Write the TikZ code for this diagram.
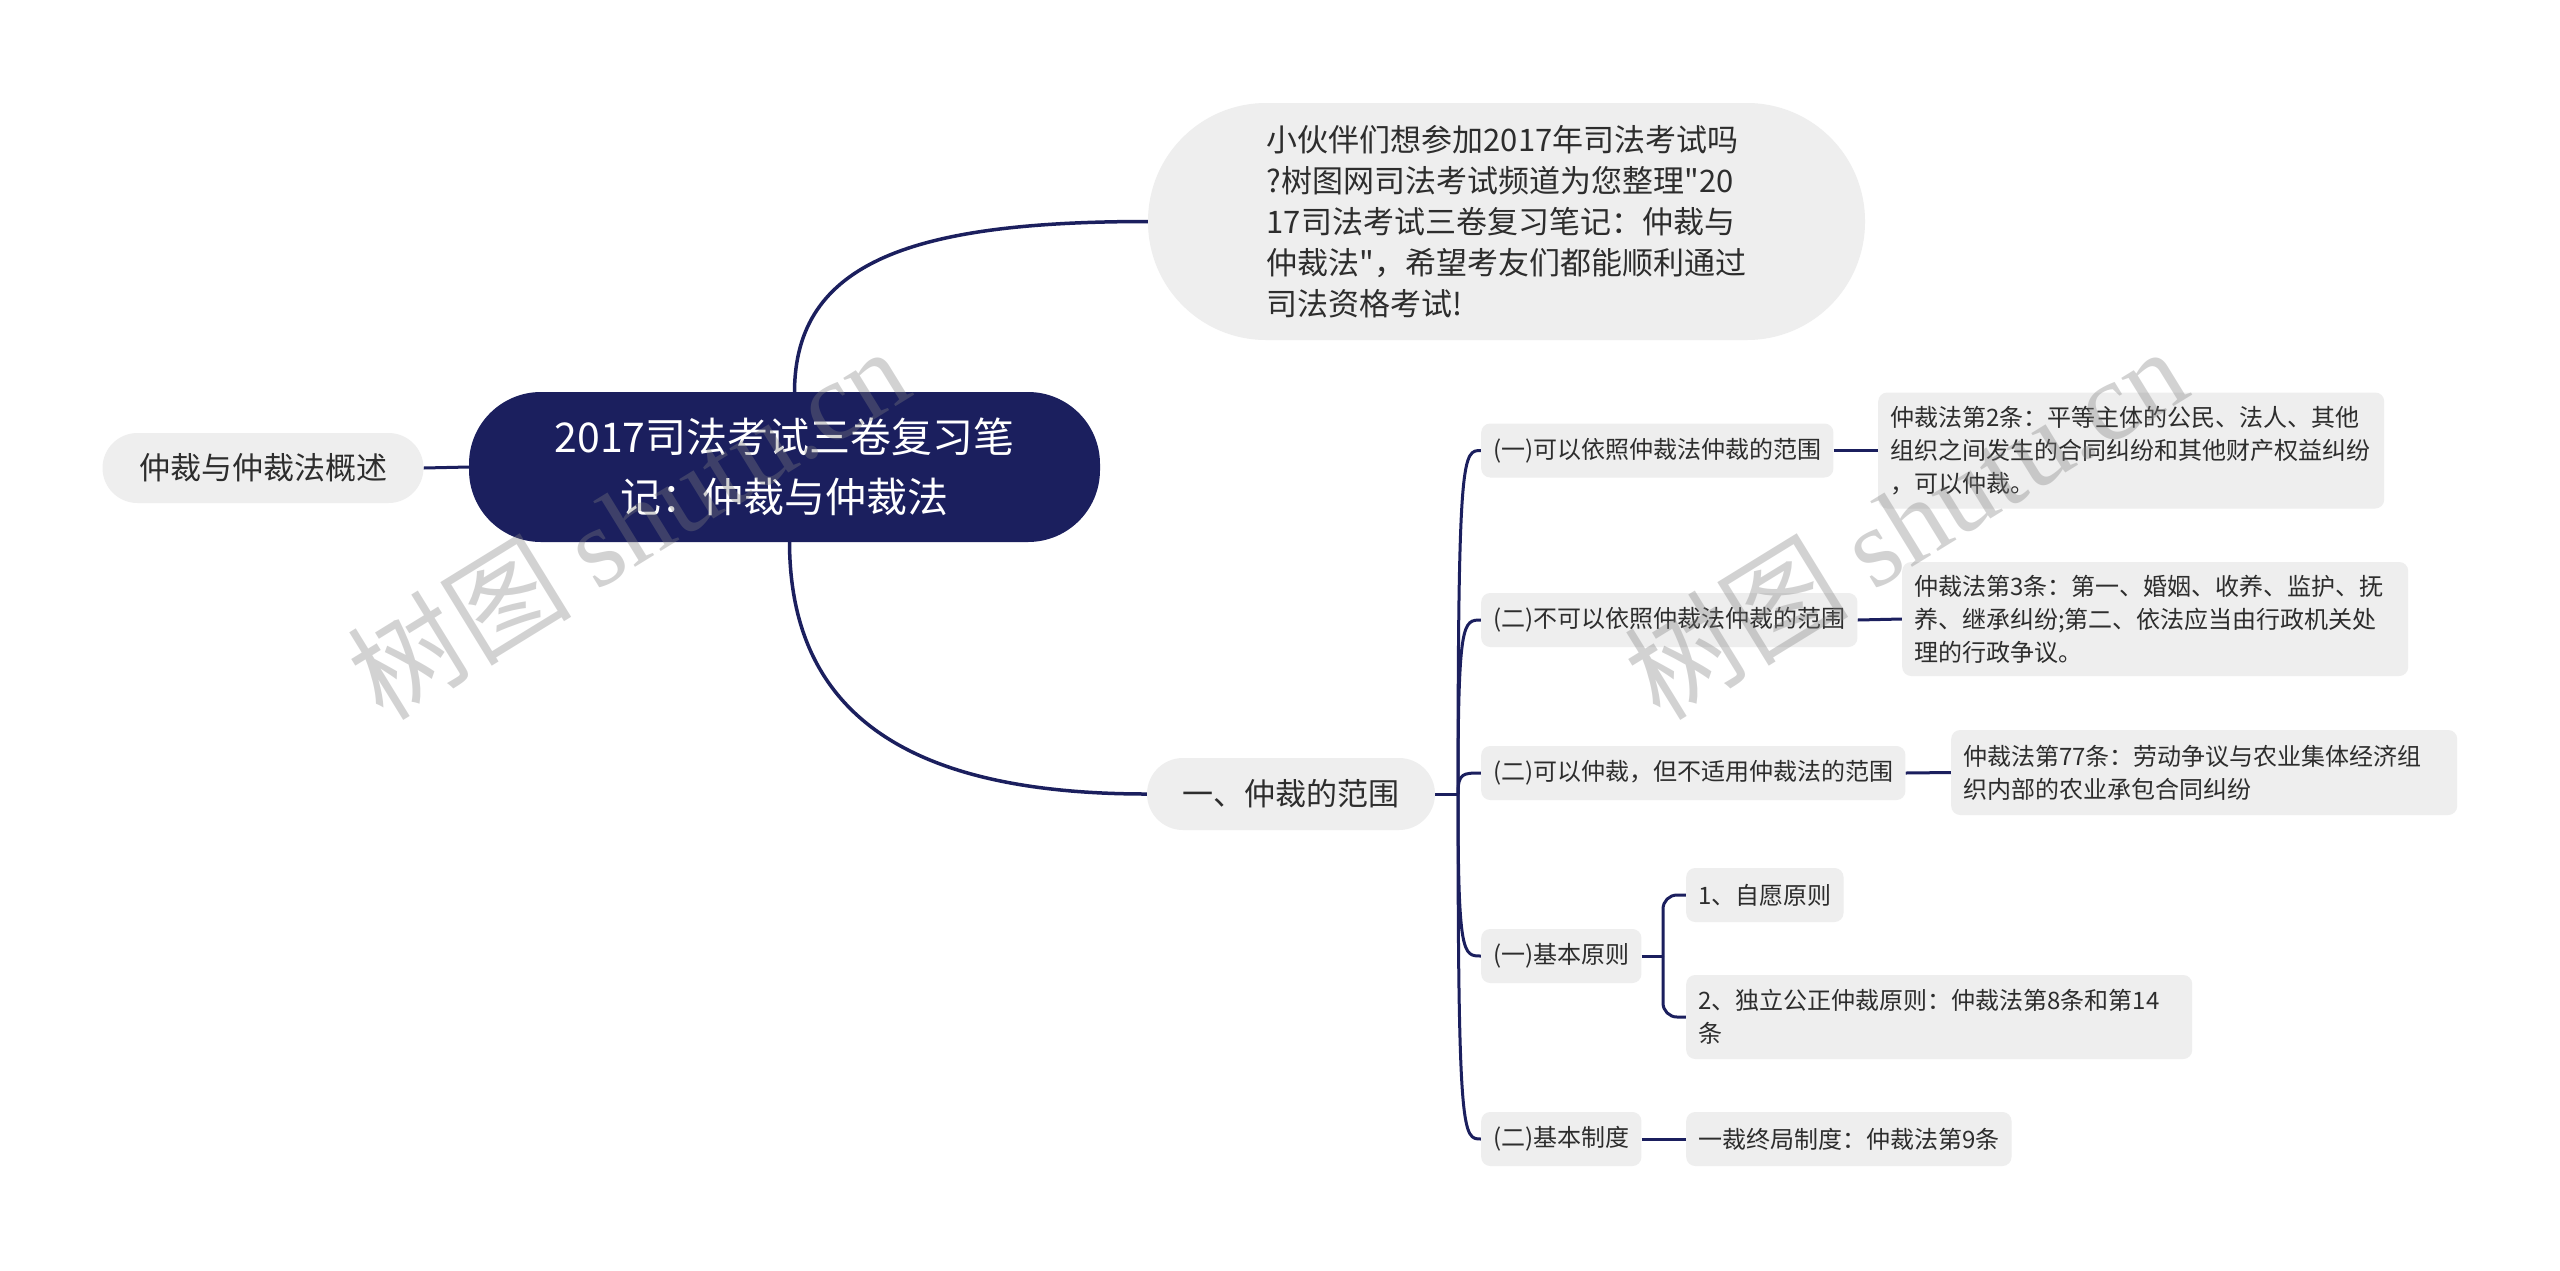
\documentclass[tikz,border=0pt]{standalone}
\usepackage{fontspec}
\setmainfont{Noto Sans CJK SC}[Ligatures=TeXOff]
\newfontfamily\wmserif{Liberation Serif}
\usetikzlibrary{backgrounds,calc}
\definecolor{navy}{RGB}{27,31,94}
\definecolor{nodegrey}{RGB}{238,238,238}
\definecolor{txt}{RGB}{45,45,45}
\tikzset{
  conn/.style={draw=navy, line width=3pt},
  mainconn/.style={draw=navy, line width=3.5pt},
  pill/.style={fill=nodegrey, text=txt, inner sep=0pt, font=\fontsize{31}{41}\selectfont},
  leaf/.style={fill=nodegrey, text=txt, rounded corners=9pt, inner xsep=12pt, inner ysep=0pt,
    minimum height=54pt, anchor=west, font=\fontsize{24}{33}\selectfont},
  multileaf/.style={leaf, text width=482pt, align=left, inner xsep=12pt},
  wm/.style={text=gray, text opacity=0.35, rotate=31.6, font=\fontsize{112}{112}\selectfont}
}
\begin{document}
\begin{tikzpicture}[x=1pt,y=-1pt]
\useasboundingbox (0,0) rectangle (2560,1270);

% nodes
\node[pill, rounded corners=35pt, minimum width=321pt, minimum height=70pt] (ov) at (263,468) {仲裁与仲裁法概述};
\node[fill=navy, text=white, rounded corners=72pt, minimum width=631pt, minimum height=150pt,
  inner sep=0pt, align=center, font=\fontsize{41}{60}\selectfont] (root) at (784.5,467)
  {2017司法考试三卷复习笔\\记：仲裁与仲裁法};
\node[pill, rounded corners=118pt, minimum width=717pt, minimum height=237pt, align=left] (intro) at (1506.5,221.5)
  {小伙伴们想参加2017年司法考试吗\\?树图网司法考试频道为您整理"20\\17司法考试三卷复习笔记：仲裁与\\仲裁法"，希望考友们都能顺利通过\\司法资格考试!};
\node[pill, rounded corners=36pt, minimum width=288pt, minimum height=72pt] (l1) at (1291,794) {一、仲裁的范围};

\node[leaf] (c1) at (1481,450.5) {(一)可以依照仲裁法仲裁的范围};
\node[leaf] (c2) at (1481,620) {(二)不可以依照仲裁法仲裁的范围};
\node[leaf] (c3) at (1481,773) {(二)可以仲裁，但不适用仲裁法的范围};
\node[leaf] (c4) at (1481,956) {(一)基本原则};
\node[leaf] (c5) at (1481,1139) {(二)基本制度};

\node[multileaf, minimum height=116pt] (g1) at (1878,450.5)
  {仲裁法第2条：平等主体的公民、法人、其他\\组织之间发生的合同纠纷和其他财产权益纠纷\\，可以仲裁。};
\node[multileaf, minimum height=114pt] (g2) at (1902,619)
  {仲裁法第3条：第一、婚姻、收养、监护、抚\\养、继承纠纷;第二、依法应当由行政机关处\\理的行政争议。};
\node[multileaf, minimum height=85pt] (g3) at (1951,772.5)
  {仲裁法第77条：劳动争议与农业集体经济组\\织内部的农业承包合同纠纷};
\node[leaf] (g4a) at (1686,895) {1、自愿原则};
\node[multileaf, minimum height=84pt] (g4b) at (1686,1017)
  {2、独立公正仲裁原则：仲裁法第8条和第14\\条};
\node[leaf] (g5) at (1686,1139) {一裁终局制度：仲裁法第9条};

% connectors
\begin{pgfonlayer}{background}
\fill[white] (0,0) rectangle (2560,1270);
\draw[conn] (ov.east) -- (root.west);
\draw[mainconn] ([xshift=10pt]root.north) .. controls (795,261) and (914,221.5) .. (intro.west);
\draw[mainconn] ([xshift=5pt]root.south) .. controls (790,718) and (914,794) .. (l1.west);
\coordinate (b1) at (1458,794);
\draw[conn] (l1.east) -- (b1);
\foreach \c in {c1,c2,c3,c4,c5}
  \draw[conn] (b1) .. controls (b1 |- \c.west) and ($(b1 |- \c.west)+(5,0)$) .. (\c.west);
\draw[conn] (c1.east) -- (g1.west);
\draw[conn] (c2.east) -- (g2.west);
\draw[conn] (c3.east) -- (g3.west);
\coordinate (b2) at (1663,956);
\draw[conn] (c4.east) -- (b2);
\draw[conn, rounded corners=14pt] (b2) |- (g4a.west);
\draw[conn, rounded corners=14pt] (b2) |- (g4b.west);
\draw[conn] (c5.east) -- (g5.west);
\end{pgfonlayer}

% watermarks
\node[wm] (wm1) at (628,522) {树图 {\wmserif shutu.cn}};
\node[wm] (wm2) at (1905,522) {树图 {\wmserif shutu.cn}};
\end{tikzpicture}
\end{document}
